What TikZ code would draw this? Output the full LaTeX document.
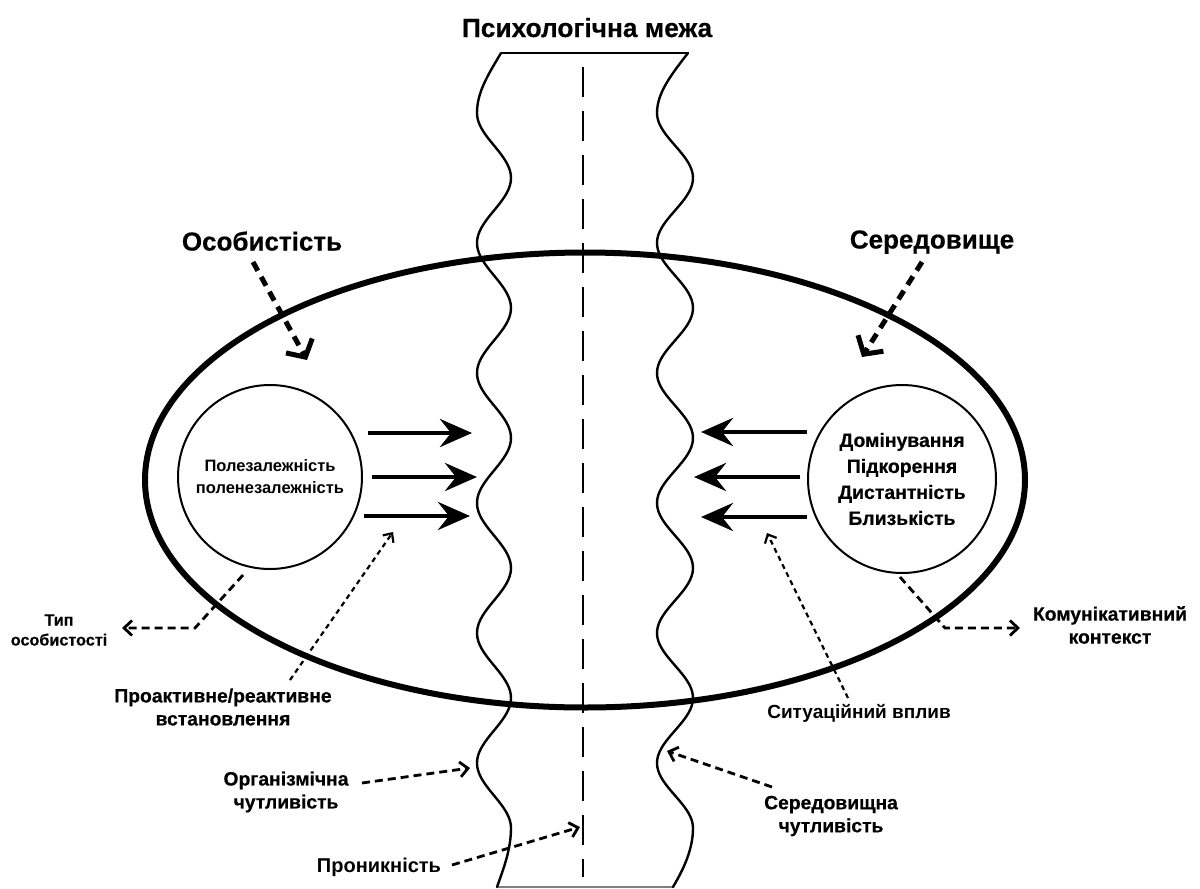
\documentclass[tikz,border=0pt]{standalone}
\usepackage{fontspec}
\setmainfont{Liberation Sans}[BoldFeatures={FakeBold=0.5}]
\newfontfamily\medfont{Liberation Sans}
\usetikzlibrary{arrows.meta}
\begin{document}
\begin{tikzpicture}[x=1pt,y=-1pt,
  every node/.style={inner sep=0pt, align=center},
  titletxt/.style={font=\bfseries\fontsize{26.3}{30}\selectfont, anchor=base},
  bigtxt/.style={font=\bfseries\fontsize{26}{30}\selectfont, anchor=base},
  lbl/.style={font=\bfseries\fontsize{19.3}{23}\selectfont},
  mlbl/.style={font=\medfont\bfseries\fontsize{19}{23}\selectfont},
  smalllbl/.style={font=\bfseries\fontsize{16.2}{20}\selectfont},
  wave/.style={line width=2.4pt, line cap=round, line join=round},
  bigarrow/.style={line width=4.5pt,-{Stealth[length=32pt,width=28pt,inset=11pt]}},
  thickdash/.style={line width=5pt,dash pattern=on 10pt off 7pt,-{Straight Barb[length=13pt,width=30pt]}},
  thindash/.style={line width=2.8pt,dash pattern=on 8pt off 5pt,-{Straight Barb[length=8pt,width=15pt]}},
  dotdash/.style={line width=2.2pt,dash pattern=on 5pt off 4pt,-{Straight Barb[length=7pt,width=13pt]}},
  ring/.style={circle, draw, line width=2pt}
]
\useasboundingbox (0,0) rectangle (1200,889);

% band (psychological boundary)
\draw[line width=2pt] (501,53) -- (688,53);
\draw[gray, line width=1.5pt] (497,887) -- (673,887);
\draw[wave] (501,53) .. controls (488,75) and (477,92) .. (477,113)
  -- plot[domain=113:828,samples=200] ({494-17*cos((\x-113)/130*360)},\x)
  .. controls (511,850) and (503,870) .. (497,887);
\draw[wave] (688,53) .. controls (671,75) and (657,93) .. (657,113)
  -- plot[domain=113:828,samples=200] ({675-18*cos((\x-113)/130*360)},\x)
  .. controls (693,850) and (683,870) .. (673,887);
\draw[line width=2pt, dash pattern=on 30pt off 14pt] (583,67) -- (583,877);

% ellipse
\draw[line width=6pt] (585,480) ellipse [x radius=440pt, y radius=227.5pt];

% titles
\node[titletxt] (title) at (587,37) {Психологічна межа};
\node[bigtxt] (osob) at (262,250.5) {Особистість};
\node[bigtxt] (sered) at (932,248.5) {Середовище};

% circles
\node[ring, minimum size=184pt, font=\medfont\bfseries\fontsize{16.5}{22}\selectfont] (lc) at (270,477) {Полезалежність\\поленезалежність};
\node[ring, minimum size=188pt, font=\bfseries\fontsize{19.4}{26}\selectfont] (rc) at (902,479) {Домінування\\Підкорення\\Дистантність\\Близькість};

% labels
\node[smalllbl] (typ) at (59,630) {Тип\\особистості};
\node[lbl] (proakt) at (223,707) {Проактивне/реактивне\\встановлення};
\node[lbl] (komun) at (1110,625) {Комунікативний\\контекст};
\node[mlbl] (sytuat) at (859,713) {Ситуаційний вплив};
\node[lbl] (organ) at (286,792) {Організмічна\\чутливість};
\node[mlbl, font=\medfont\bfseries\fontsize{20}{23}\selectfont] (pron) at (379,867) {Проникність};
\node[lbl] (seredch) at (831,816) {Середовищна\\чутливість};

% coordinates
\coordinate (l1s) at (368,433); \coordinate (l1e) at (472,433);
\coordinate (l2s) at (372,477); \coordinate (l2e) at (477,477);
\coordinate (l3s) at (364,516); \coordinate (l3e) at (470,516);
\coordinate (r1s) at (807,432); \coordinate (r1e) at (701,432);
\coordinate (r2s) at (800,477); \coordinate (r2e) at (694,477);
\coordinate (r3s) at (807,517); \coordinate (r3e) at (701,517);
\coordinate (osobs) at (253,262); \coordinate (osobe) at (307,360);
\coordinate (sereds) at (922,262); \coordinate (serede) at (862,357);
\coordinate (typs) at (243,575); \coordinate (typk) at (195,628); \coordinate (type) at (122,628);
\coordinate (komuns) at (900,577); \coordinate (komunk) at (945,628); \coordinate (komune) at (1020,628);
\coordinate (proakts) at (290,680); \coordinate (proakte) at (393,532);
\coordinate (sytuats) at (848,698); \coordinate (sytuate) at (767,533);
\coordinate (organs) at (362,783); \coordinate (organe) at (470,768);
\coordinate (prons) at (452,865); \coordinate (prone) at (580,827);
\coordinate (seredchs) at (772,787); \coordinate (seredche) at (667,751);

% arrows
\draw[bigarrow] (l1s) -- (l1e);
\draw[bigarrow] (l2s) -- (l2e);
\draw[bigarrow] (l3s) -- (l3e);
\draw[bigarrow] (r1s) -- (r1e);
\draw[bigarrow] (r2s) -- (r2e);
\draw[bigarrow] (r3s) -- (r3e);
\draw[thickdash] (osobs) -- (osobe);
\draw[thickdash] (sereds) -- (serede);
\draw[thindash] (typs) -- (typk) -- (type);
\draw[thindash] (komuns) -- (komunk) -- (komune);
\draw[dotdash] (proakts) -- (proakte);
\draw[dotdash] (sytuats) -- (sytuate);
\draw[thindash] (organs) -- (organe);
\draw[thindash] (prons) -- (prone);
\draw[thindash] (seredchs) -- (seredche);
\end{tikzpicture}
\end{document}
